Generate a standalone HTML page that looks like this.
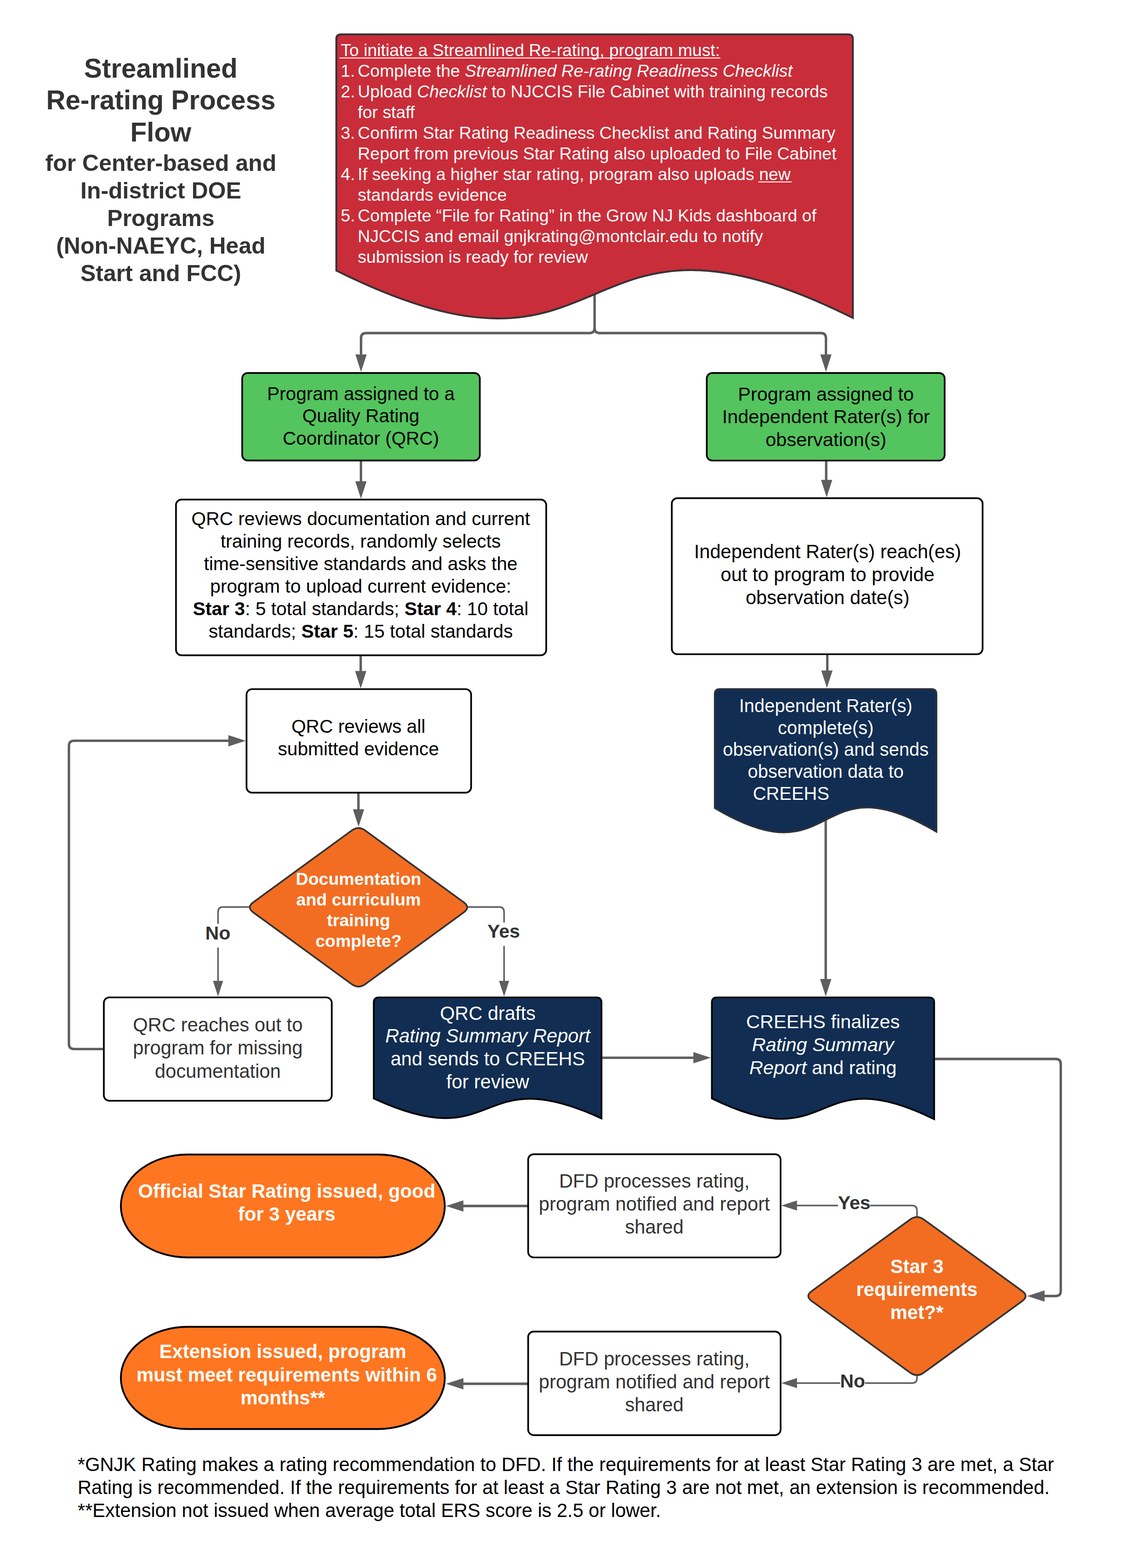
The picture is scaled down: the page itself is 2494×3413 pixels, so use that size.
<!DOCTYPE html>
<html lang="en">
<head>
<meta charset="utf-8">
<title>Streamlined Re-rating Process Flow</title>
<style>
html,body{margin:0;padding:0;background:#fff;}
body{width:2494px;height:3413px;overflow:hidden;}
svg{display:block;font-family:"Liberation Sans", Arial, Helvetica, sans-serif;}
text{white-space:pre;}
</style>
</head>
<body>
<svg width="2494" height="3413" viewBox="0 0 2494 3413" role="img" aria-label="Streamlined Re-rating Process Flow">
<rect x="0" y="0" width="2494" height="3413" fill="#ffffff"/>
<g id="title">
<text x="350" y="168.8" font-size="58.33" fill="#333333" font-weight="bold" text-anchor="middle">Streamlined</text>
<text x="350" y="238.4" font-size="58.33" fill="#333333" font-weight="bold" text-anchor="middle">Re-rating Process</text>
<text x="350" y="308" font-size="58.33" fill="#333333" font-weight="bold" text-anchor="middle">Flow</text>
<text x="350" y="372" font-size="50" fill="#333333" font-weight="bold" text-anchor="middle">for Center-based and</text>
<text x="350" y="432" font-size="50" fill="#333333" font-weight="bold" text-anchor="middle">In-district DOE</text>
<text x="350" y="492" font-size="50" fill="#333333" font-weight="bold" text-anchor="middle">Programs</text>
<text x="350" y="552" font-size="50" fill="#333333" font-weight="bold" text-anchor="middle">(Non-NAEYC, Head</text>
<text x="350" y="612" font-size="50" fill="#333333" font-weight="bold" text-anchor="middle">Start and FCC)</text>
</g>
<g id="connectors">
<path d="M1294,630 L1294,714 Q1294,725 1283,725 L796.7,725 Q785.7,725 785.7,736 L785.7,775" fill="none" stroke="#5e5e5e" stroke-width="5.3" stroke-linejoin="round"/>
<path d="M1294,714 Q1294,725 1305,725 L1786.5,725 Q1797.5,725 1797.5,736 L1797.5,775" fill="none" stroke="#5e5e5e" stroke-width="5.3" stroke-linejoin="round"/>
<polygon points="785.7,809.5 773.45,771.5 797.95,771.5" fill="#5e5e5e"/>
<polygon points="1797.5,809.5 1785.25,771.5 1809.75,771.5" fill="#5e5e5e"/>
<path d="M785.5,1003 L785.5,1052" fill="none" stroke="#5e5e5e" stroke-width="5.3" stroke-linejoin="round"/>
<polygon points="785.5,1085.5 773.25,1047.5 797.75,1047.5" fill="#5e5e5e"/>
<path d="M1798,1003 L1798,1048" fill="none" stroke="#5e5e5e" stroke-width="5.3" stroke-linejoin="round"/>
<polygon points="1799,1082.5 1786.75,1044.5 1811.25,1044.5" fill="#5e5e5e"/>
<path d="M785,1426 L785,1465" fill="none" stroke="#5e5e5e" stroke-width="5.3" stroke-linejoin="round"/>
<polygon points="785,1498.5 772.75,1460.5 797.25,1460.5" fill="#5e5e5e"/>
<path d="M1800.4,1424 L1800.4,1463" fill="none" stroke="#5e5e5e" stroke-width="5.3" stroke-linejoin="round"/>
<polygon points="1799.6,1497.5 1787.35,1459.5 1811.85,1459.5" fill="#5e5e5e"/>
<path d="M780,1725 L780,1765" fill="none" stroke="#5e5e5e" stroke-width="5.3" stroke-linejoin="round"/>
<polygon points="780.3,1799.6 768.05,1761.6 792.55,1761.6" fill="#5e5e5e"/>
<path d="M226,2283.3 L161,2283.3 Q150,2283.3 150,2272.3 L150,1623.4 Q150,1612.4 161,1612.4 L500,1612.4" fill="none" stroke="#5e5e5e" stroke-width="5.3" stroke-linejoin="round"/>
<polygon points="535,1612.4 497,1600.15 497,1624.65" fill="#5e5e5e"/>
<path d="M1797,1780 L1797,2135" fill="none" stroke="#5e5e5e" stroke-width="5.3" stroke-linejoin="round"/>
<polygon points="1797,2169 1784.75,2131 1809.25,2131" fill="#5e5e5e"/>
<path d="M546,1974.3 L485.5,1974.3 Q474.5,1974.3 474.5,1985.3 L474.5,2138" fill="none" stroke="#5e5e5e" stroke-width="3.4" stroke-linejoin="round"/>
<polygon points="474.5,2169 463.5,2135 485.5,2135" fill="#5e5e5e"/>
<path d="M1014,1974.3 L1086,1974.3 Q1097,1974.3 1097,1985.3 L1097,2138" fill="none" stroke="#5e5e5e" stroke-width="3.4" stroke-linejoin="round"/>
<polygon points="1097,2169 1086,2135 1108,2135" fill="#5e5e5e"/>
<path d="M1310,2302.3 L1512,2302.3" fill="none" stroke="#5e5e5e" stroke-width="5.3" stroke-linejoin="round"/>
<polygon points="1547,2302.3 1509,2290.05 1509,2314.55" fill="#5e5e5e"/>
<path d="M2033,2305 L2297.5,2305 Q2308.5,2305 2308.5,2316 L2308.5,2810 Q2308.5,2821 2297.5,2821 L2270,2821" fill="none" stroke="#5e5e5e" stroke-width="5.3" stroke-linejoin="round"/>
<polygon points="2235.3,2821 2273.3,2808.75 2273.3,2833.25" fill="#5e5e5e"/>
<path d="M1995.6,2652 L1995.6,2635 Q1995.6,2624 1984.6,2624 L1732,2624" fill="none" stroke="#5e5e5e" stroke-width="3.4" stroke-linejoin="round"/>
<polygon points="1700.5,2624 1734.5,2613 1734.5,2635" fill="#5e5e5e"/>
<path d="M1995.6,2990 L1995.6,2999.5 Q1995.6,3010.5 1984.6,3010.5 L1732,3010.5" fill="none" stroke="#5e5e5e" stroke-width="3.4" stroke-linejoin="round"/>
<polygon points="1700.5,3010.5 1734.5,2999.5 1734.5,3021.5" fill="#5e5e5e"/>
<path d="M1149,2625 L1005,2625" fill="none" stroke="#5e5e5e" stroke-width="5.3" stroke-linejoin="round"/>
<polygon points="970.5,2625 1008.5,2612.75 1008.5,2637.25" fill="#5e5e5e"/>
<path d="M1149,3012 L1005,3012" fill="none" stroke="#5e5e5e" stroke-width="5.3" stroke-linejoin="round"/>
<polygon points="970.5,3012 1008.5,2999.75 1008.5,3024.25" fill="#5e5e5e"/>
</g>
<g id="start">
<path d="M732,589 L732,84.8 Q732,74.8 742,74.8 L1846,74.8 Q1856,74.8 1856,84.8 L1856,692 C1226.56,378.88 1361.44,902.12 732,589 Z" fill="#c92d39" stroke="#3a3236" stroke-width="4.17" stroke-linejoin="miter"/>
<text x="741.5" y="121.6" font-size="37.42" fill="#fff">To initiate a Streamlined Re-rating, program must:</text>
<path d="M738.5,126.3 H1567.7 M1650.2,396 H1723.2" stroke="#fff" stroke-width="1.9" fill="none"/>
<text x="741.5" y="166.6" font-size="37.42" fill="#fff">1.</text>
<text x="778.6" y="166.6" font-size="37.42" fill="#fff">Complete the <tspan font-style="italic">Streamlined Re-rating Readiness Checklist</tspan></text>
<text x="741.5" y="211.6" font-size="37.42" fill="#fff">2.</text>
<text x="778.6" y="211.6" font-size="37.42" fill="#fff">Upload <tspan font-style="italic">Checklist</tspan> to NJCCIS File Cabinet with training records</text>
<text x="778.6" y="256.6" font-size="37.42" fill="#fff">for staff</text>
<text x="741.5" y="301.6" font-size="37.42" fill="#fff">3.</text>
<text x="778.6" y="301.6" font-size="37.42" fill="#fff">Confirm Star Rating Readiness Checklist and Rating Summary</text>
<text x="778.6" y="346.6" font-size="37.42" fill="#fff">Report from previous Star Rating also uploaded to File Cabinet</text>
<text x="741.5" y="391.6" font-size="37.42" fill="#fff">4.</text>
<text x="778.6" y="391.6" font-size="37.42" fill="#fff">If seeking a higher star rating, program also uploads new</text>
<text x="778.6" y="436.6" font-size="37.42" fill="#fff">standards evidence</text>
<text x="741.5" y="481.6" font-size="37.42" fill="#fff">5.</text>
<text x="778.6" y="481.6" font-size="37.42" fill="#fff">Complete “File for Rating” in the Grow NJ Kids dashboard of</text>
<text x="778.6" y="526.6" font-size="37.42" fill="#fff">NJCCIS and email gnjkrating@montclair.edu to notify</text>
<text x="778.6" y="571.6" font-size="37.42" fill="#fff">submission is ready for review</text>
</g>
<g id="assign">
<rect x="527.1" y="811.8" width="517.1" height="190.6" rx="12" ry="12" fill="#54c45e" stroke="#000" stroke-width="3.7"/>
<text x="785.4" y="870.5" font-size="40.6" fill="#000" text-anchor="middle">Program assigned to a</text>
<text x="785.4" y="919.3" font-size="40.6" fill="#000" text-anchor="middle">Quality Rating</text>
<text x="785.4" y="968.1" font-size="40.6" fill="#000" text-anchor="middle">Coordinator (QRC)</text>
<rect x="1538.1" y="811.8" width="517.7" height="190.7" rx="12" ry="12" fill="#54c45e" stroke="#000" stroke-width="3.7"/>
<text x="1797.5" y="871.7" font-size="41.5" fill="#000" text-anchor="middle">Program assigned to</text>
<text x="1797.5" y="921.4" font-size="41.5" fill="#000" text-anchor="middle">Independent Rater(s) for</text>
<text x="1797.5" y="971.1" font-size="41.5" fill="#000" text-anchor="middle">observation(s)</text>
</g>
<g id="review">
<rect x="383" y="1087.4" width="805.7" height="339" rx="12" ry="12" fill="#fff" stroke="#000" stroke-width="3.7"/>
<text x="785" y="1142.6" font-size="40.8" fill="#000" text-anchor="middle">QRC reviews documentation and current</text>
<text x="785" y="1191.6" font-size="40.8" fill="#000" text-anchor="middle">training records, randomly selects</text>
<text x="785" y="1240.6" font-size="40.8" fill="#000" text-anchor="middle">time-sensitive standards and asks the</text>
<text x="785" y="1289.6" font-size="40.8" fill="#000" text-anchor="middle">program to upload current evidence:</text>
<text x="785" y="1338.6" font-size="40.8" fill="#000" text-anchor="middle"><tspan font-weight="bold">Star 3</tspan>: 5 total standards; <tspan font-weight="bold">Star 4</tspan>: 10 total</text>
<text x="785" y="1387.6" font-size="40.8" fill="#000" text-anchor="middle">standards; <tspan font-weight="bold">Star 5</tspan>: 15 total standards</text>
<rect x="1462" y="1084.4" width="676.4" height="339.6" rx="12" ry="12" fill="#fff" stroke="#000" stroke-width="3.7"/>
<text x="1801" y="1214.5" font-size="41.67" fill="#000" text-anchor="middle">Independent Rater(s) reach(es)</text>
<text x="1801" y="1264.5" font-size="41.67" fill="#000" text-anchor="middle">out to program to provide</text>
<text x="1801" y="1314.5" font-size="41.67" fill="#000" text-anchor="middle">observation date(s)</text>
<rect x="536.5" y="1500" width="488.8" height="225.4" rx="12" ry="12" fill="#fff" stroke="#000" stroke-width="3.7"/>
<text x="780" y="1594.5" font-size="40.7" fill="#000" text-anchor="middle">QRC reviews all</text>
<text x="780" y="1644" font-size="40.7" fill="#000" text-anchor="middle">submitted evidence</text>
</g>
<g id="observe">
<path d="M1555.5,1759 L1555.5,1510.8 Q1555.5,1499.8 1566.5,1499.8 L2027,1499.8 Q2038,1499.8 2038,1510.8 L2038,1810.5 C1767.8,1650.85 1825.7,1918.65 1555.5,1759 Z" fill="#112d52" stroke="#2d3138" stroke-width="3.7" stroke-linejoin="miter"/>
<text x="1797" y="1549.6" font-size="39.9" fill="#fff" text-anchor="middle">Independent Rater(s)</text>
<text x="1797" y="1597.5" font-size="39.9" fill="#fff" text-anchor="middle">complete(s)</text>
<text x="1797" y="1645.4" font-size="39.9" fill="#fff" text-anchor="middle">observation(s) and sends</text>
<text x="1797" y="1693.3" font-size="39.9" fill="#fff" text-anchor="middle">observation data to</text>
<text x="1638.5" y="1741.4" font-size="39.9" fill="#fff">CREEHS</text>
</g>
<g id="decision1">
<path d="M765.25,1807.9 Q780.2,1797 795.15,1807.9 L1009.25,1964.1 Q1024.2,1975 1009.25,1985.9 L795.15,2142.1 Q780.2,2153 765.25,2142.1 L551.15,1985.9 Q536.2,1975 551.15,1964.1 Z" fill="#f26d21" stroke="#333" stroke-width="3.7"/>
<text x="780.3" y="1926" font-size="37.5" fill="#fff" font-weight="bold" text-anchor="middle">Documentation</text>
<text x="780.3" y="1971" font-size="37.5" fill="#fff" font-weight="bold" text-anchor="middle">and curriculum</text>
<text x="780.3" y="2016" font-size="37.5" fill="#fff" font-weight="bold" text-anchor="middle">training</text>
<text x="780.3" y="2061" font-size="37.5" fill="#fff" font-weight="bold" text-anchor="middle">complete?</text>
<rect x="440" y="2011" width="70" height="51.5" fill="#fff"/>
<rect x="1058" y="2008" width="80" height="51" fill="#fff"/>
<text x="474.2" y="2045.3" font-size="41" fill="#333333" font-weight="bold" text-anchor="middle">No</text>
<text x="1096.2" y="2041.3" font-size="41" fill="#333333" font-weight="bold" text-anchor="middle">Yes</text>
</g>
<g id="reports">
<rect x="226" y="2171" width="496" height="225" rx="12" ry="12" fill="#fff" stroke="#000" stroke-width="3.7"/>
<text x="474" y="2245" font-size="41.8" fill="#333333" text-anchor="middle">QRC reaches out to</text>
<text x="474" y="2295.3" font-size="41.8" fill="#333333" text-anchor="middle">program for missing</text>
<text x="474" y="2345.6" font-size="41.8" fill="#333333" text-anchor="middle">documentation</text>
<path d="M813.4,2391 L813.4,2182 Q813.4,2171 824.4,2171 L1298,2171 Q1309,2171 1309,2182 L1309,2434.5 C1031.46,2306.18 1090.94,2519.32 813.4,2391 Z" fill="#112d52" stroke="#000" stroke-width="3.7" stroke-linejoin="miter"/>
<text x="1061.5" y="2219.5" font-size="41.6" fill="#fff" text-anchor="middle">QRC drafts</text>
<text x="1061.5" y="2269.3" font-size="41.6" fill="#fff" text-anchor="middle"><tspan font-style="italic">Rating Summary Report</tspan></text>
<text x="1061.5" y="2319.1" font-size="41.6" fill="#fff" text-anchor="middle">and sends to CREEHS</text>
<text x="1061.5" y="2368.9" font-size="41.6" fill="#fff" text-anchor="middle">for review</text>
<path d="M1549.2,2391 L1549.2,2182 Q1549.2,2171 1560.2,2171 L2022,2171 Q2033,2171 2033,2182 L2033,2436 C1762.07,2303.25 1820.13,2523.75 1549.2,2391 Z" fill="#112d52" stroke="#000" stroke-width="3.7" stroke-linejoin="miter"/>
<text x="1791" y="2238" font-size="41.5" fill="#fff" text-anchor="middle">CREEHS finalizes</text>
<text x="1791" y="2288" font-size="41.5" fill="#fff" text-anchor="middle"><tspan font-style="italic">Rating Summary</tspan></text>
<text x="1791" y="2338" font-size="41.5" fill="#fff" text-anchor="middle"><tspan font-style="italic">Report</tspan> and rating</text>
</g>
<g id="decision2">
<path d="M1980.64,2654.48 Q1995.6,2643.6 2010.56,2654.48 L2224.64,2810.22 Q2239.6,2821.1 2224.64,2831.98 L2010.56,2987.72 Q1995.6,2998.6 1980.64,2987.72 L1766.56,2831.98 Q1751.6,2821.1 1766.56,2810.22 Z" fill="#f26d21" stroke="#333" stroke-width="3.7"/>
<text x="1995.4" y="2771" font-size="41.7" fill="#fff" font-weight="bold" text-anchor="middle">Star 3</text>
<text x="1995.4" y="2821.2" font-size="41.7" fill="#fff" font-weight="bold" text-anchor="middle">requirements</text>
<text x="1995.4" y="2871.4" font-size="41.7" fill="#fff" font-weight="bold" text-anchor="middle">met?*</text>
<rect x="1823.8" y="2600" width="70" height="48" fill="#fff"/>
<rect x="1828.6" y="2987" width="54" height="48" fill="#fff"/>
<text x="1859" y="2632" font-size="41.3" fill="#333333" font-weight="bold" text-anchor="middle">Yes</text>
<text x="1855.6" y="3020" font-size="41" fill="#333333" font-weight="bold" text-anchor="middle">No</text>
</g>
<g id="dfd">
<rect x="1149.4" y="2512.4" width="549.4" height="224.6" rx="12" ry="12" fill="#fff" stroke="#000" stroke-width="3.7"/>
<text x="1424" y="2585.4" font-size="41.7" fill="#333333" text-anchor="middle">DFD processes rating,</text>
<text x="1424" y="2635.4" font-size="41.7" fill="#333333" text-anchor="middle">program notified and report</text>
<text x="1424" y="2685.4" font-size="41.7" fill="#333333" text-anchor="middle">shared</text>
<rect x="1149.4" y="2898.4" width="549.4" height="225.4" rx="12" ry="12" fill="#fff" stroke="#000" stroke-width="3.7"/>
<text x="1424" y="2972" font-size="41.7" fill="#333333" text-anchor="middle">DFD processes rating,</text>
<text x="1424" y="3022" font-size="41.7" fill="#333333" text-anchor="middle">program notified and report</text>
<text x="1424" y="3072" font-size="41.7" fill="#333333" text-anchor="middle">shared</text>
</g>
<g id="outcomes">
<rect x="263" y="2513" width="705" height="224" rx="145" ry="112" fill="#ff7620" stroke="#000" stroke-width="3.9"/>
<text x="624" y="2606.8" font-size="41.9" fill="#fff" font-weight="bold" text-anchor="middle">Official Star Rating issued, good</text>
<text x="624" y="2656.8" font-size="41.9" fill="#fff" font-weight="bold" text-anchor="middle">for 3 years</text>
<rect x="263" y="2888" width="705" height="222.5" rx="145" ry="111.25" fill="#ff7620" stroke="#000" stroke-width="3.9"/>
<text x="615.5" y="2956" font-size="41.9" fill="#fff" font-weight="bold" text-anchor="middle">Extension issued, program</text>
<text x="624" y="3006.5" font-size="41.9" fill="#fff" font-weight="bold" text-anchor="middle">must meet requirements within 6</text>
<text x="615.5" y="3057" font-size="41.9" fill="#fff" font-weight="bold" text-anchor="middle">months**</text>
</g>
<g id="footnotes">
<text x="169" y="3201.7" font-size="41.6" fill="#000">*GNJK Rating makes a rating recommendation to DFD. If the requirements for at least Star Rating 3 are met, a Star</text>
<text x="169" y="3251.7" font-size="41.6" fill="#000">Rating is recommended. If the requirements for at least a Star Rating 3 are not met, an extension is recommended.</text>
<text x="169" y="3301.7" font-size="41.6" fill="#000">**Extension not issued when average total ERS score is 2.5 or lower.</text>
</g>
</svg>
</body>
</html>
